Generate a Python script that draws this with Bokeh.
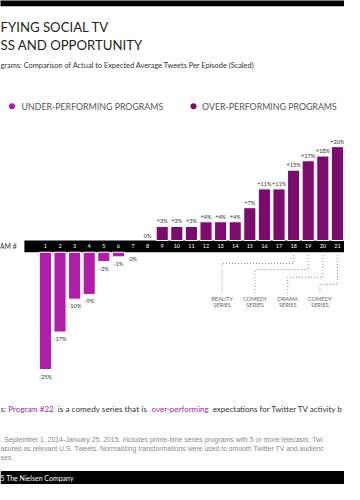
from bokeh.plotting import figure
from bokeh.models import Label, ColumnDataSource
from bokeh.core.properties import value
from bokeh.embed import file_html
from bokeh.resources import INLINE

# ---------------- data ----------------
programs = list(range(1, 22))
pct = [-25, -17, -10, -9, -2, -1, 0, 0, 3, 3, 3, 4, 4, 4, 7, 11, 11, 15, 17, 18, 20]
group = ["under"] * 7 + ["over"] * 14
callout_bars = [18, 19, 20, 21]
callout_label_x = [13.1, 15.35, 17.6, 19.8]
callout_genres = ["REALITY", "COMEDY", "DRAMA", "COMEDY"]

UNDER = "#b11ca8"
OVER = "#7b0b6c"
FONT = "Lato"

# ---------------- layout helpers ----------------
W, H = 344, 484
KX, KY = W / 360, H / 500


def sx(X):
    return X * KX


def sy(Y):
    return H - Y * KY


ppx = 15.28 * KX
ppy = 4.85 * KY
x0 = 1 - sx(47) / ppx
x1 = x0 + W / ppx
y0 = -sy(254) / ppy
y1 = y0 + H / ppy


def dx(X):
    return x0 + sx(X) / ppx


def dy(Y):
    return y0 + sy(Y) / ppy


h = 6 * KY / ppy  # half band height in data units

p = figure(width=W, height=H, x_range=(x0, x1), y_range=(y0, y1),
           output_backend="svg", toolbar_location=None, title=None,
           x_axis_location=None, y_axis_location=None, min_border=0)
p.outline_line_color = None
p.grid.visible = False
p.background_fill_color = "white"

# black band and footer strip
p.quad(left=[dx(25), x0], right=[x1, x1],
       bottom=[-h, y0], top=[h, dy(486)],
       fill_color="black", line_color=None)
# top strip (own renderer, extends past the top edge)
p.quad(left=[x0 - 1], right=[x1 + 1], bottom=[dy(6)], top=[y1 + 3],
       fill_color="#000000", fill_alpha=1, line_color=None)

# bars
bx, btop, bbot, bcol = [], [], [], []
lx, ly, ltxt, lbase, loff = [], [], [], [], []
for prog, v, g in zip(programs, pct, group):
    if g == "over":
        top, bot = h + v, h
        ly.append(h + v); lbase.append("bottom"); loff.append(-2)
    else:
        top, bot = -h, -h + v
        ly.append(-h + v); lbase.append("top"); loff.append(3)
    lx.append(prog)
    ltxt.append("0%" if v == 0 else f"{v:+d}%")
    if v != 0:
        bx.append(prog); btop.append(top); bbot.append(bot)
        bcol.append(OVER if g == "over" else UNDER)

p.vbar(x=bx, top=btop, bottom=bbot, width=0.83, fill_color=bcol,
       line_color="white", line_width=1)

p.text(x=programs, y=[0] * len(programs), text=[str(n) for n in programs],
       text_color="white", text_font=value(FONT), text_font_size="5.5px",
       text_align="center", text_baseline="middle")

# value labels
src = ColumnDataSource(dict(x=lx, y=ly, t=ltxt, b=lbase, o=loff))
p.text(x="x", y="y", text="t", source=src, text_baseline="b", y_offset="o",
       text_align="center", text_font=value(FONT), text_font_size="5.6px",
       text_color="#333333")

# callouts
horiz_levels = [271.7, 278, 286, 293.3]
xs, ys = [], []
for b, lxx, hl in zip(callout_bars, callout_label_x, horiz_levels):
    xs.append([b, b, lxx, lxx]); ys.append([dy(263), dy(hl), dy(hl), dy(302)])
p.multi_line(xs=xs, ys=ys, line_color="#8c8c8c", line_width=1, line_dash="1 2")
n = len(callout_genres)
p.text(x=callout_label_x, y=[dy(307.5)] * n, text=callout_genres,
       text_align="center", text_baseline="middle", text_font=value(FONT),
       text_font_size="5.6px", text_color="#666666")
p.text(x=callout_label_x, y=[dy(314)] * n, text=["SERIES"] * n,
       text_align="center", text_baseline="middle", text_font=value(FONT),
       text_font_size="5.6px", text_color="#666666")


def lab(X, Y, text, size, color="#222222", font=FONT, align="left", style="normal"):
    p.add_layout(Label(x=sx(X), y=sy(Y), x_units="screen", y_units="screen",
                       text=text, text_font=font, text_font_size=size,
                       text_color=color, text_align=align, text_baseline="middle",
                       text_font_style=style))


# titles
lab(0, 27, "FYING SOCIAL TV", "13.2px", "#231f20")
lab(0, 45.5, "SS AND OPPORTUNITY", "13.2px", "#231f20")
lab(0, 67, "grams: Comparison of Actual to Expected Average Tweets Per Episode (Scaled)", "7.4px", "#333333")

# legend
p.scatter(x=[dx(12), dx(202)], y=[dy(109.3), dy(109.3)], size=6,
          fill_color=[UNDER, OVER], line_color=None)
lab(22, 109.3, "UNDER-PERFORMING PROGRAMS", "8.8px", "#555555")
lab(211, 109.3, "OVER-PERFORMING PROGRAMS", "8.8px", "#555555")

# axis label
lab(17, 254, "AM #", "7px", "#333333", align="right")

# key sentence
lab(0, 422, "s:", "8px", "#333333")
lab(8, 422, "Program #22", "8px", "#a8209c")
lab(60, 422, "is a comedy series that is", "8.2px", "#333333")
lab(158, 422, "over-performing", "8px", "#a8209c")
lab(222, 422, "expectations for Twitter TV activity b", "8px", "#333333")

# footnotes
FN = "Liberation Sans"
lab(0, 453, ". September 1, 2014-January 25, 2015. Includes prime-time series programs with 5 or more telecasts. Twi", "6.9px", "#8a8a8a", FN)
lab(0, 462.7, "asured as relevant U.S. Tweets. Normalizing transformations were used to smooth Twitter TV and audienc", "6.9px", "#8a8a8a", FN)
lab(0, 472.3, "ses.", "6.9px", "#8a8a8a", FN)

# footer
lab(0, 493.3, "5 The Nielsen Company", "7px", "white")

open("out.html", "w").write(file_html(p, INLINE))
